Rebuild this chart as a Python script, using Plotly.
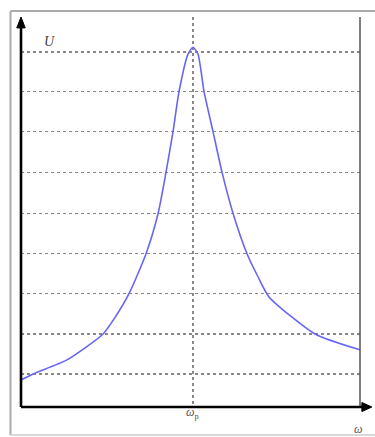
import plotly.graph_objects as go

# Resonance curve U(ω), ω in units of ω_p, U normalised to the peak
omega = [0.0, 0.070, 0.267, 0.477, 0.552, 0.628, 0.727, 0.797, 0.843, 0.884, 0.919,
         0.971, 1.0, 1.029, 1.064, 1.116, 1.169, 1.233, 1.314, 1.378, 1.442, 1.709, 1.971]
U = [0.075, 0.092, 0.131, 0.203, 0.253, 0.315, 0.426, 0.538, 0.652, 0.766, 0.877,
     0.981, 1.0, 0.981, 0.877, 0.766, 0.652, 0.538, 0.426, 0.362, 0.306, 0.203, 0.159]

grid_U = [0.092, 0.203, 0.315, 0.426, 0.538, 0.652, 0.766, 0.877, 0.987]
x_grid = [1.0]
x_label = "<i>ω</i><sub>p</sub>"

fig = go.Figure()
fig.add_trace(go.Scatter(x=omega, y=U, mode="lines",
                         line=dict(color="#6666f2", width=1.6, shape="spline", smoothing=0.6),
                         hoverinfo="skip", showlegend=False))

serif = "Liberation Serif, DejaVu Serif, serif"

fig.update_layout(
    width=375, height=437,
    margin=dict(l=21, r=15, t=17, b=30),
    paper_bgcolor="white", plot_bgcolor="white",
    xaxis=dict(range=[0, 1.971], tickvals=x_grid, showticklabels=False,
               showgrid=True, griddash="dot", gridcolor="#888888", gridwidth=1.5,
               zeroline=False, showline=False, ticks="", fixedrange=True),
    yaxis=dict(range=[0, 1.084], tickvals=grid_U, showticklabels=False,
               showgrid=True, griddash="dot", gridcolor="#888888", gridwidth=1.5,
               zeroline=False, showline=False, ticks="", fixedrange=True),
    shapes=[
        # outer frame (left, top, bottom)
        dict(type="line", xref="paper", yref="paper", x0=-0.031, x1=-0.031, y0=-0.072, y1=1.0154,
             line=dict(color="#aaaaaa", width=2)),
        dict(type="line", xref="paper", yref="paper", x0=-0.031, x1=1.2, y0=1.0154, y1=1.0154,
             line=dict(color="#aaaaaa", width=2)),
        dict(type="line", xref="paper", yref="paper", x0=-0.031, x1=1.2, y0=-0.072, y1=-0.072,
             line=dict(color="#cccccc", width=1.5)),
        # right boundary line
        dict(type="line", xref="paper", yref="paper", x0=1, x1=1, y0=0, y1=1,
             line=dict(color="#555555", width=1.5)),
        # x axis
        dict(type="line", xref="paper", yref="paper", x0=0, x1=1.01, y0=0, y1=0,
             line=dict(color="black", width=2.6)),
        dict(type="path", xref="paper", yref="paper",
             path="M 1.035 0 L 1.0055 0.0115 L 1.0055 -0.0115 Z",
             fillcolor="black", line=dict(color="black", width=1)),
        # y axis
        dict(type="line", xref="paper", yref="paper", x0=0, x1=0, y0=0, y1=0.98,
             line=dict(color="black", width=2.6)),
        dict(type="path", xref="paper", yref="paper",
             path="M 0 1.0 L -0.0125 0.972 L 0.0125 0.972 Z",
             fillcolor="black", line=dict(color="black", width=1)),
    ],
    annotations=[
        dict(xref="x", yref="paper", x=x_grid[0], y=-0.016, text=x_label, showarrow=False,
             xanchor="center", yanchor="middle",
             font=dict(family=serif, size=12, color="#555555")),
        dict(xref="paper", yref="paper", x=0.085, y=0.936, text="<i>U</i>", showarrow=False,
             xanchor="center", yanchor="middle",
             font=dict(family=serif, size=14, color="#444444")),
        dict(xref="paper", yref="paper", x=0.995, y=-0.057, text="<i>ω</i>", showarrow=False,
             xanchor="center", yanchor="middle",
             font=dict(family=serif, size=12, color="#555555")),
    ],
)

fig.write_html(
    "out.html",
    config={"displayModeBar": False, "staticPlot": True},
    post_script="document.body.style.margin='0';document.documentElement.style.overflow='hidden';",
)
